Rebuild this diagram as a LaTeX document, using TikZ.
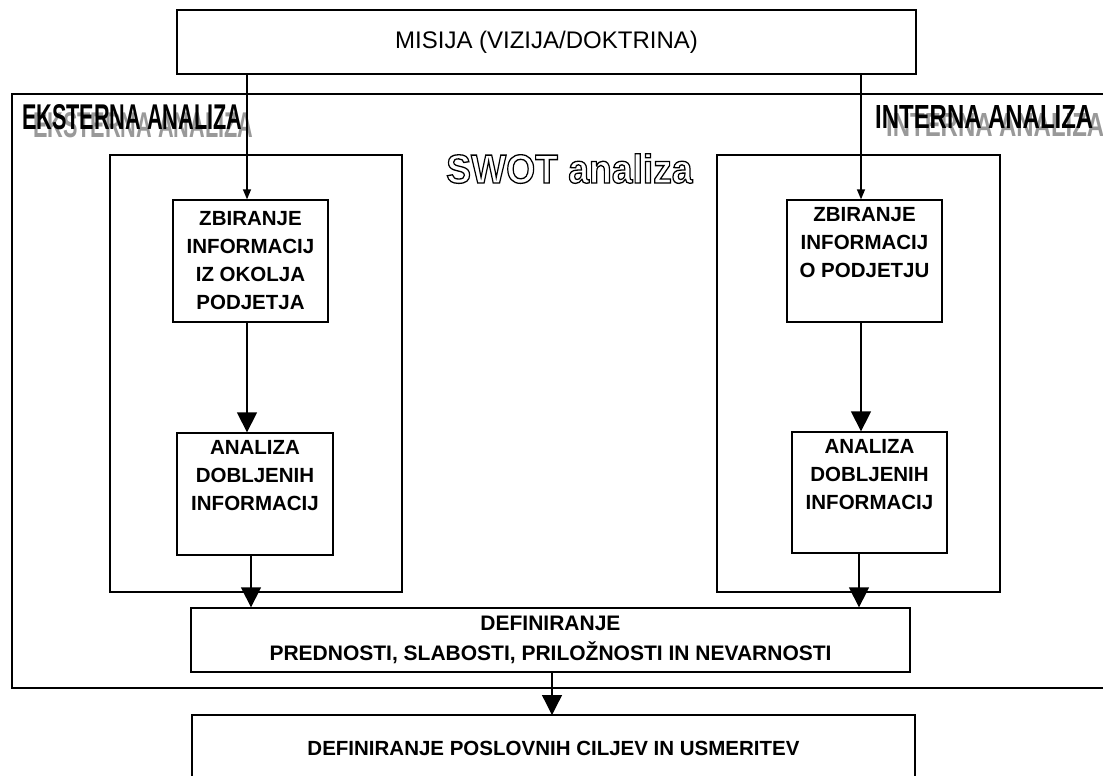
\documentclass[tikz,border=0pt]{standalone}
\usepackage{fontspec}
\setmainfont{Liberation Sans}
\usetikzlibrary{arrows.meta}
\newcommand{\outlinedtext}[1]{\special{pdf:literal direct 1 Tr 1.3 w}#1\special{pdf:literal direct 0 Tr}}
\begin{document}
\begin{tikzpicture}[x=1pt,y=-1pt,
  box/.style={draw, line width=1.3pt, inner sep=0pt, align=center,
    font=\fontsize{20.5}{28}\selectfont\bfseries},
  plain/.style={inner sep=0pt, align=center, font=\fontsize{20.5}{28}\selectfont\bfseries},
  framepath/.style={draw, line width=1.3pt},
  bigarr/.style={line width=1.3pt, -{Triangle[width=20pt,length=20pt]}},
  smallarr/.style={line width=1.3pt, -{Triangle[width=8pt,length=10pt]}},
  title/.style={inner sep=0pt, anchor=base west}]
\useasboundingbox (0,0) rectangle (1103,776);

% outer frame (open on the right)
\draw[framepath] (1103,94) -- (12,94) -- (12,688) -- (1103,688);
% inner frames
\draw[framepath] (110,155) rectangle (402,592);
\draw[framepath] (717,155) rectangle (1000,592);

% titles with shadow
\node[title, text=black!40] (eksS) at (33,137) {\resizebox{220pt}{25pt}{\bfseries EKSTERNA ANALIZA}};
\node[title] (eks) at (22,129) {\resizebox{220pt}{25pt}{\bfseries EKSTERNA ANALIZA}};
\node[title, text=black!40] (intS) at (886,136) {\resizebox{218pt}{23pt}{\bfseries INTERNA ANALIZA}};
\node[title] (int) at (875,128) {\resizebox{218pt}{23pt}{\bfseries INTERNA ANALIZA}};

% outlined SWOT title
\node[title] (swot) at (446,183)
  {\scalebox{0.92}[1]{\fontsize{40.5}{40}\selectfont\bfseries\outlinedtext{SWOT analiza}}};

% boxes
\node[box, minimum width=739pt, minimum height=64pt,
  font=\fontsize{24}{28}\selectfont] (mis) at (546.5,42) {MISIJA (VIZIJA/DOKTRINA)};
\node[box, minimum width=155pt, minimum height=122pt] (zl) at (250.5,261)
  {ZBIRANJE\\INFORMACIJ\\IZ OKOLJA\\PODJETJA};
\node[box, minimum width=156pt, minimum height=122pt] (al) at (255,494)
  {ANALIZA\\DOBLJENIH\\INFORMACIJ\\\strut};
\node[box, minimum width=155pt, minimum height=122pt] (zr) at (864.5,261)
  {ZBIRANJE\\INFORMACIJ\\O PODJETJU\\\strut};
\node[box, minimum width=155pt, minimum height=121pt] (ar) at (869.5,492.5)
  {ANALIZA\\DOBLJENIH\\INFORMACIJ\\\strut};
\node[box, minimum width=719pt, minimum height=64pt,
  font=\fontsize{21}{30}\selectfont\bfseries] (def) at (550.5,640)
  {DEFINIRANJE\\PREDNOSTI, SLABOSTI, PRILOŽNOSTI IN NEVARNOSTI};

% bottom box (cut by the page edge)
\draw[framepath] (192,776) -- (192,715) -- (915,715) -- (915,776);
\coordinate (bottop) at (552,715);
\node[plain] (bottxt) at (553.5,748) {DEFINIRANJE POSLOVNIH CILJEV IN USMERITEV};

% connector columns
\coordinate (cl) at (247,0);
\coordinate (cl2) at (251,0);
\coordinate (cr) at (861,0);
\coordinate (cr2) at (859,0);

\draw[smallarr] (mis.south -| cl) -- (zl.north -| cl);
\draw[smallarr] (mis.south -| cr) -- (zr.north -| cr);
\draw[bigarr] (zl.south -| cl) -- (al.north -| cl);
\draw[bigarr] (zr.south -| cr) -- (ar.north -| cr);
\draw[bigarr] (al.south -| cl2) -- (def.north -| cl2);
\draw[bigarr] (ar.south -| cr2) -- (def.north -| cr2);
\draw[bigarr] (def.south -| bottop) -- (bottop);
\end{tikzpicture}
\end{document}
